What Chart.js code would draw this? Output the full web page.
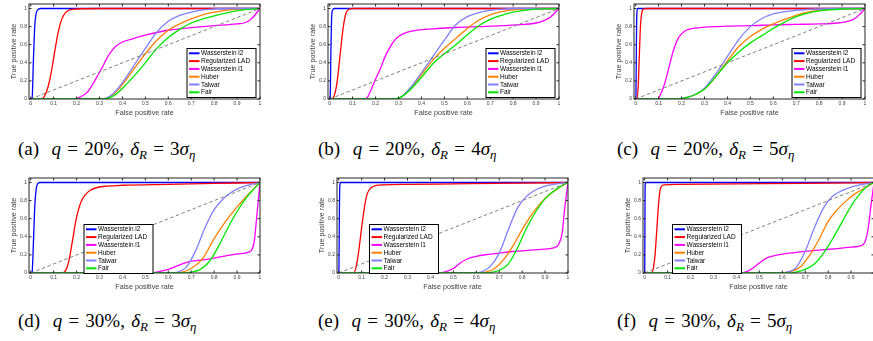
<!DOCTYPE html>
<html>
<head>
<meta charset="utf-8">
<script src="https://cdn.jsdelivr.net/npm/chart.js@4.4.1/dist/chart.umd.min.js"></script>
<style>
html, body { margin: 0; padding: 0; background: #fff; width: 873px; height: 341px; overflow: hidden; }
canvas { position: absolute; }
.cap { position: absolute; font-family: 'Liberation Serif', serif; font-size: 19px; line-height: 22px; white-space: nowrap; color: #000; word-spacing: 1.5px; }
.cap sub { font-size: 68%; vertical-align: -0.3em; line-height: 0; }
</style>
</head>
<body>
<canvas id="pa"></canvas>
<canvas id="pb"></canvas>
<canvas id="pc"></canvas>
<canvas id="pd"></canvas>
<canvas id="pe"></canvas>
<canvas id="pf"></canvas>
<div class="cap" id="ca"></div>
<div class="cap" id="cb"></div>
<div class="cap" id="cc"></div>
<div class="cap" id="cd"></div>
<div class="cap" id="ce"></div>
<div class="cap" id="cf"></div>
<script>
// series names and tick values
const seriesNames = ['Wasserstein l2', 'Regularized LAD', 'Wasserstein l1', 'Huber', 'Talwar', 'Fair'];
const xTicks = [0, 0.1, 0.2, 0.3, 0.4, 0.5, 0.6, 0.7, 0.8, 0.9, 1];
const yTicks = [0, 0.2, 0.4, 0.6, 0.8, 1];
const chance = [[0, 0], [1, 1]];

// caption parameters
const captionLetters = ['a', 'b', 'c', 'd', 'e', 'f'];
const outlierPct = [20, 20, 20, 30, 30, 30];
const deltaMult = [3, 4, 5, 3, 4, 5];

// (a) q=20%, delta=3
const aL2 = [[0,0],[0.006,0.01],[0.012,0.45],[0.018,0.82],[0.024,0.95],[0.032,0.99],[0.045,1],[1,1]];
const aLAD = [[0,0],[0.045,0],[0.06,0.03],[0.075,0.13],[0.09,0.3],[0.105,0.53],[0.12,0.74],[0.135,0.88],[0.15,0.95],[0.17,0.985],[0.2,0.995],[0.3,1],[1,1]];
const aL1 = [[0,0],[0.19,0],[0.215,0.02],[0.245,0.07],[0.27,0.16],[0.29,0.25],[0.31,0.34],[0.33,0.44],[0.35,0.52],[0.37,0.58],[0.4,0.63],[0.45,0.67],[0.5,0.705],[0.55,0.735],[0.6,0.76],[0.7,0.79],[0.8,0.81],[0.9,0.83],[0.93,0.84],[0.955,0.87],[0.975,0.92],[1,1]];
const aHuber = [[0,0],[0.3,0],[0.33,0.01],[0.36,0.05],[0.4,0.16],[0.45,0.33],[0.5,0.5],[0.55,0.65],[0.6,0.76],[0.65,0.83],[0.7,0.885],[0.75,0.93],[0.8,0.96],[0.85,0.98],[0.9,0.993],[1,1]];
const aTalwar = [[0,0],[0.3,0],[0.33,0.01],[0.36,0.06],[0.4,0.18],[0.45,0.37],[0.5,0.56],[0.55,0.74],[0.6,0.86],[0.65,0.925],[0.7,0.96],[0.75,0.985],[0.8,0.995],[0.85,1],[1,1]];
const aFair = [[0,0],[0.32,0],[0.35,0.02],[0.38,0.07],[0.42,0.17],[0.46,0.28],[0.5,0.4],[0.55,0.56],[0.6,0.68],[0.65,0.77],[0.7,0.84],[0.75,0.885],[0.8,0.92],[0.85,0.95],[0.9,0.975],[0.95,0.99],[1,1]];

// (b) q=20%, delta=4
const bL2 = [[0,0],[0.002,0.02],[0.005,0.5],[0.008,0.88],[0.012,0.98],[0.02,1],[1,1]];
const bLAD = [[0,0],[0.01,0],[0.02,0.04],[0.03,0.15],[0.04,0.36],[0.05,0.6],[0.06,0.81],[0.07,0.94],[0.08,0.985],[0.1,1],[1,1]];
const bL1 = [[0,0],[0.15,0],[0.165,0.02],[0.18,0.1],[0.2,0.22],[0.22,0.33],[0.24,0.46],[0.26,0.56],[0.28,0.64],[0.3,0.69],[0.33,0.73],[0.37,0.755],[0.45,0.775],[0.55,0.79],[0.65,0.8],[0.75,0.81],[0.85,0.825],[0.9,0.84],[0.93,0.86],[0.96,0.9],[1,1]];
const bHuber = [[0,0],[0.28,0],[0.31,0.02],[0.35,0.11],[0.4,0.27],[0.45,0.43],[0.5,0.56],[0.55,0.67],[0.6,0.78],[0.65,0.87],[0.7,0.93],[0.75,0.965],[0.8,0.985],[0.9,1],[1,1]];
const bTalwar = [[0,0],[0.28,0],[0.31,0.02],[0.35,0.12],[0.4,0.29],[0.45,0.47],[0.5,0.65],[0.55,0.82],[0.6,0.91],[0.65,0.955],[0.7,0.98],[0.75,0.993],[0.8,1],[1,1]];
const bFair = [[0,0],[0.28,0],[0.31,0.02],[0.35,0.1],[0.4,0.24],[0.45,0.39],[0.5,0.5],[0.55,0.6],[0.6,0.71],[0.65,0.81],[0.7,0.88],[0.75,0.925],[0.8,0.96],[0.85,0.98],[0.9,0.993],[1,1]];

// (c) q=20%, delta=5
const cL2 = [[0,0],[0.001,0.02],[0.003,0.6],[0.005,0.95],[0.008,1],[1,1]];
const cLAD = [[0,0],[0.005,0],[0.011,0.15],[0.016,0.5],[0.021,0.82],[0.027,0.96],[0.035,0.995],[0.045,1],[1,1]];
const cL1 = [[0,0],[0.095,0],[0.11,0.06],[0.125,0.16],[0.14,0.3],[0.155,0.45],[0.17,0.58],[0.185,0.67],[0.2,0.72],[0.22,0.76],[0.25,0.78],[0.3,0.795],[0.4,0.805],[0.5,0.81],[0.6,0.82],[0.7,0.825],[0.8,0.83],[0.88,0.84],[0.92,0.855],[0.95,0.88],[0.975,0.93],[1,1]];
const cHuber = [[0,0],[0.18,0],[0.22,0.015],[0.26,0.05],[0.3,0.11],[0.35,0.25],[0.4,0.42],[0.45,0.58],[0.5,0.69],[0.55,0.77],[0.6,0.83],[0.65,0.88],[0.7,0.925],[0.75,0.96],[0.8,0.98],[0.9,0.997],[1,1]];
const cTalwar = [[0,0],[0.18,0],[0.22,0.015],[0.26,0.05],[0.3,0.12],[0.35,0.28],[0.4,0.47],[0.45,0.66],[0.5,0.8],[0.55,0.89],[0.6,0.94],[0.65,0.965],[0.7,0.98],[0.8,0.995],[0.9,1],[1,1]];
const cFair = [[0,0],[0.18,0],[0.22,0.015],[0.26,0.05],[0.3,0.11],[0.35,0.25],[0.4,0.4],[0.45,0.52],[0.5,0.62],[0.55,0.7],[0.6,0.78],[0.65,0.85],[0.7,0.91],[0.75,0.95],[0.8,0.975],[0.9,0.995],[1,1]];

// (d) q=30%, delta=3
const dL2 = [[0,0],[0.006,0.01],[0.012,0.35],[0.018,0.75],[0.024,0.93],[0.03,0.985],[0.04,1],[1,1]];
const dLAD = [[0,0],[0.14,0],[0.155,0.04],[0.165,0.12],[0.175,0.25],[0.185,0.4],[0.195,0.55],[0.205,0.67],[0.22,0.79],[0.24,0.87],[0.26,0.915],[0.29,0.945],[0.33,0.96],[0.4,0.97],[0.6,0.98],[0.8,0.99],[1,1]];
const dL1 = [[0,0],[0.5,0],[0.55,0.01],[0.6,0.04],[0.65,0.09],[0.7,0.13],[0.75,0.145],[0.8,0.165],[0.85,0.19],[0.9,0.21],[0.95,0.23],[0.965,0.26],[0.975,0.35],[0.985,0.6],[1,1]];
const dHuber = [[0,0],[0.62,0],[0.66,0.01],[0.7,0.05],[0.75,0.16],[0.8,0.38],[0.85,0.57],[0.9,0.73],[0.95,0.87],[1,1]];
const dTalwar = [[0,0],[0.6,0],[0.64,0.01],[0.68,0.07],[0.72,0.25],[0.76,0.5],[0.8,0.7],[0.84,0.82],[0.88,0.9],[0.92,0.95],[0.96,0.98],[1,1]];
const dFair = [[0,0],[0.65,0],[0.7,0.01],[0.74,0.04],[0.78,0.13],[0.82,0.3],[0.86,0.5],[0.9,0.68],[0.94,0.83],[0.97,0.92],[1,1]];

// (e) q=30%, delta=4
const eL2 = [[0,0],[0.001,0.05],[0.003,0.7],[0.005,0.97],[0.008,1],[1,1]];
const eLAD = [[0,0],[0.065,0],[0.075,0.06],[0.085,0.2],[0.095,0.4],[0.105,0.6],[0.115,0.77],[0.125,0.88],[0.14,0.94],[0.16,0.965],[0.2,0.975],[0.3,0.98],[0.5,0.985],[0.8,0.993],[1,1]];
const eL1 = [[0,0],[0.42,0],[0.46,0.01],[0.5,0.05],[0.53,0.11],[0.56,0.155],[0.6,0.185],[0.65,0.205],[0.7,0.22],[0.75,0.235],[0.8,0.245],[0.85,0.255],[0.9,0.265],[0.94,0.28],[0.96,0.32],[0.975,0.45],[0.985,0.7],[1,1]];
const eHuber = [[0,0],[0.6,0],[0.64,0.01],[0.68,0.05],[0.72,0.15],[0.76,0.3],[0.8,0.48],[0.84,0.64],[0.88,0.77],[0.92,0.87],[0.96,0.94],[1,1]];
const eTalwar = [[0,0],[0.58,0],[0.62,0.01],[0.66,0.07],[0.7,0.22],[0.74,0.48],[0.78,0.72],[0.82,0.85],[0.86,0.92],[0.9,0.96],[0.95,0.985],[1,1]];
const eFair = [[0,0],[0.62,0],[0.66,0.005],[0.7,0.03],[0.74,0.1],[0.78,0.28],[0.82,0.5],[0.86,0.68],[0.9,0.82],[0.94,0.91],[0.97,0.96],[1,1]];

// (f) q=30%, delta=5
const fL2 = [[0,0],[0.0005,0.3],[0.0015,0.9],[0.003,1],[1,1]];
const fLAD = [[0,0],[0.03,0],[0.038,0.06],[0.045,0.2],[0.052,0.45],[0.059,0.72],[0.066,0.9],[0.073,0.96],[0.085,0.975],[0.15,0.98],[0.4,0.985],[0.7,0.99],[1,1]];
const fL1 = [[0,0],[0.42,0],[0.45,0.02],[0.48,0.07],[0.51,0.13],[0.54,0.175],[0.58,0.2],[0.63,0.22],[0.7,0.24],[0.77,0.255],[0.84,0.27],[0.9,0.285],[0.94,0.3],[0.96,0.34],[0.975,0.5],[0.987,0.75],[1,1]];
const fHuber = [[0,0],[0.6,0],[0.64,0.02],[0.68,0.07],[0.72,0.2],[0.76,0.37],[0.8,0.57],[0.84,0.7],[0.88,0.8],[0.92,0.88],[0.96,0.94],[1,1]];
const fTalwar = [[0,0],[0.58,0],[0.62,0.01],[0.66,0.06],[0.7,0.24],[0.74,0.5],[0.78,0.72],[0.82,0.85],[0.86,0.91],[0.9,0.95],[0.95,0.98],[1,1]];
const fFair = [[0,0],[0.62,0],[0.66,0.01],[0.7,0.04],[0.74,0.1],[0.78,0.22],[0.82,0.38],[0.86,0.56],[0.9,0.74],[0.94,0.88],[0.97,0.96],[1,1]];

// styles
const lineColors = ['#0000ff', '#ff0000', '#ff00ff', '#ff8000', '#8080ff', '#00e600'];
const sans = "'Liberation Sans', Arial, sans-serif";
const axisColor = '#262626';

// panel layout: frame (axes box) position on the page, legend offset inside frame
const FW = 231, FH = 97.5, PADL = 28, PADT = 3, PADR = 4, PADB = 20;
const panels = [
  { id: 'pa', left: 29.3, top: 1.5, curves: [aL2, aLAD, aL1, aHuber, aTalwar, aFair], lx: 158, ly: 44.5 },
  { id: 'pb', left: 327.6, top: 1.5, curves: [bL2, bLAD, bL1, bHuber, bTalwar, bFair], lx: 158, ly: 44.5 },
  { id: 'pc', left: 634.3, top: 1.5, curves: [cL2, cLAD, cL1, cHuber, cTalwar, cFair], lx: 158, ly: 44.5 },
  { id: 'pd', left: 29.3, top: 175.5, curves: [dL2, dLAD, dL1, dHuber, dTalwar, dFair], lx: 55, ly: 46.5 },
  { id: 'pe', left: 336.6, top: 175.5, curves: [eL2, eLAD, eL1, eHuber, eTalwar, eFair], lx: 32.5, ly: 46.5 },
  { id: 'pf', left: 642.6, top: 175.5, curves: [fL2, fLAD, fL1, fHuber, fTalwar, fFair], lx: 29.5, ly: 46.5 }
];

function fmt(v) {
  return String(Math.round(v * 10) / 10);
}

// axes box with inward ticks, plus the boxed legend inside the axes
const boxPlugin = {
  id: 'box',
  afterDatasetsDraw(chart, args, opts) {
    const ctx = chart.ctx;
    const a = chart.chartArea;
    const x = chart.scales.x, y = chart.scales.y;
    ctx.save();
    ctx.strokeStyle = axisColor;
    ctx.lineWidth = 1;
    ctx.strokeRect(a.left, a.top, a.right - a.left, a.bottom - a.top);
    ctx.beginPath();
    xTicks.forEach(function (v) {
      const px = x.getPixelForValue(v);
      ctx.moveTo(px, a.bottom); ctx.lineTo(px, a.bottom - 2.5);
      ctx.moveTo(px, a.top); ctx.lineTo(px, a.top + 2.5);
    });
    yTicks.forEach(function (v) {
      const py = y.getPixelForValue(v);
      ctx.moveTo(a.left, py); ctx.lineTo(a.left + 2.5, py);
      ctx.moveTo(a.right, py); ctx.lineTo(a.right - 2.5, py);
    });
    ctx.stroke();

    // legend
    const lx = a.left + opts.lx, ly = a.top + opts.ly;
    const w = 69, h = 49;
    ctx.fillStyle = '#fff';
    ctx.fillRect(lx, ly, w, h);
    ctx.strokeStyle = '#000';
    ctx.lineWidth = 1;
    ctx.strokeRect(lx, ly, w, h);
    ctx.font = '6.5px ' + sans;
    ctx.textBaseline = 'middle';
    ctx.textAlign = 'left';
    let row = 0;
    chart.data.datasets.forEach(function (ds) {
      if (!ds.label) return;
      const cy = ly + 4.8 + row * 7.8;
      ctx.strokeStyle = ds.borderColor;
      ctx.lineWidth = 2;
      ctx.beginPath();
      ctx.moveTo(lx + 2, cy); ctx.lineTo(lx + 12.5, cy);
      ctx.stroke();
      ctx.fillStyle = '#000';
      ctx.fillText(ds.label, lx + 14, cy + 0.3);
      row++;
    });
    ctx.restore();
  }
};

panels.forEach(function (p) {
  const cv = document.getElementById(p.id);
  cv.width = PADL + FW + PADR;
  cv.height = PADT + FH + PADB;
  cv.style.left = (p.left - PADL) + 'px';
  cv.style.top = (p.top - PADT) + 'px';

  const datasets = p.curves.map(function (c, i) {
    return {
      label: seriesNames[i],
      data: c,
      borderColor: lineColors[i],
      borderWidth: 1.3,
      pointRadius: 0,
      cubicInterpolationMode: 'monotone',
      order: 6 - i
    };
  });
  datasets.push({
    label: '',
    data: chance,
    borderColor: '#808080',
    borderWidth: 1,
    borderDash: [3.5, 2.5],
    pointRadius: 0,
    order: 0
  });

  new Chart(cv, {
    type: 'line',
    data: { datasets: datasets },
    options: {
      responsive: false,
      animation: false,
      devicePixelRatio: 1,
      layout: { padding: { left: 0, top: PADT, right: PADR, bottom: 0 } },
      plugins: {
        legend: { display: false },
        tooltip: { enabled: false },
        box: { lx: p.lx, ly: p.ly }
      },
      scales: {
        x: {
          type: 'linear', min: -0.0075, max: 1,
          afterBuildTicks: function (s) { s.ticks = xTicks.map(function (v) { return { value: v }; }); },
          afterFit: function (s) { s.height = PADB; },
          grid: { display: false, drawTicks: false },
          border: { display: false },
          ticks: { padding: 2, autoSkip: false, maxRotation: 0, color: '#404040', font: { size: 5, family: sans }, callback: fmt },
          title: { display: true, text: 'False positive rate', color: '#404040', font: { size: 7.2, family: sans }, padding: { top: 0, bottom: 1.4 } }
        },
        y: {
          type: 'linear', min: 0, max: 1.05,
          afterBuildTicks: function (s) { s.ticks = yTicks.map(function (v) { return { value: v }; }); },
          afterFit: function (s) { s.width = PADL; },
          grid: { display: false, drawTicks: false },
          border: { display: false },
          ticks: { padding: 2, autoSkip: false, color: '#404040', font: { size: 5, family: sans }, callback: fmt },
          title: { display: true, text: 'True positive rate', color: '#404040', font: { size: 7.2, family: sans }, padding: { top: 8.4, bottom: 0 } }
        }
      }
    },
    plugins: [boxPlugin]
  });
});

// sub-figure captions
const capLeft = [18, 318, 617, 18, 318, 617];
const capTop = [137.5, 137.5, 137.5, 309.5, 309.5, 309.5];
captionLetters.forEach(function (l, i) {
  const el = document.getElementById('c' + l);
  el.style.left = capLeft[i] + 'px';
  el.style.top = capTop[i] + 'px';
  el.innerHTML = '(' + l + ')&nbsp; <i>q</i> = ' + outlierPct[i] + '%, <i>δ</i><sub><i>R</i></sub> = ' + deltaMult[i] + '<i>σ</i><sub><i>η</i></sub>';
});
</script>
</body>
</html>
